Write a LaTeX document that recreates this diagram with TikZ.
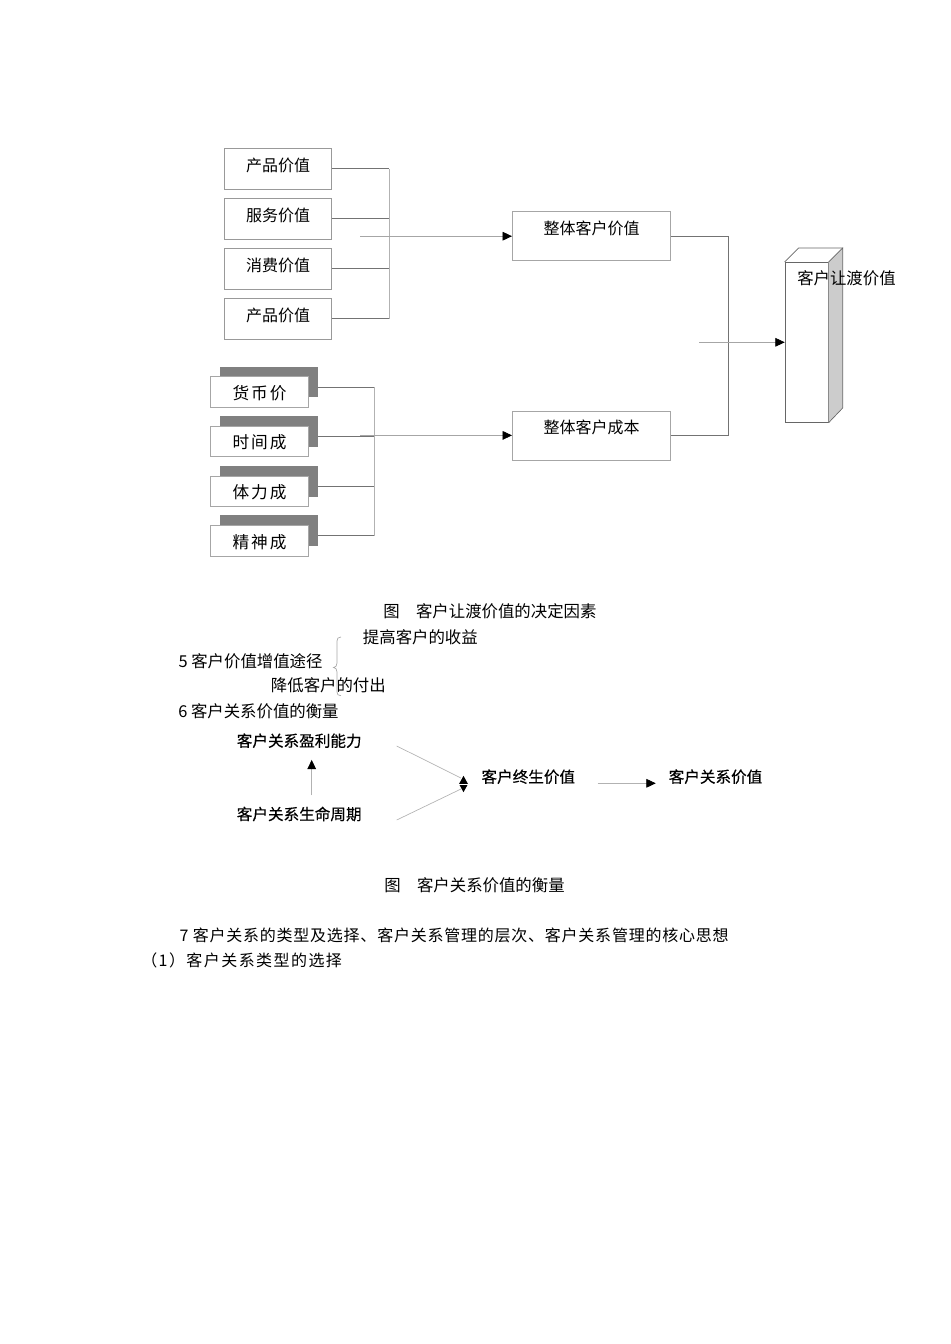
\documentclass[tikz,border=0pt]{standalone}
\usepackage{fontspec}
\setmainfont{Noto Sans CJK SC}
\newfontfamily\widefont[LetterSpace=4.8]{Noto Sans CJK SC}
\newfontfamily\widerfont[LetterSpace=9]{Noto Sans CJK SC}
\newfontfamily\spacedfont[LetterSpace=12]{Noto Sans CJK SC}
\newfontfamily\tagfont[FakeBold=0.35]{Noto Sans CJK SC}
\usetikzlibrary{arrows.meta,positioning,calc,shadows}

\begin{document}
\begin{tikzpicture}[
    x=0.75pt, y=-0.75pt,
    >={Triangle[length=7pt,width=6.5pt,color=black]},
    valbox/.style={draw=black!40, line width=0.5pt, minimum width=80.25pt, minimum height=30.75pt, inner sep=0pt, text height=8pt, text depth=3.4pt, font=\fontsize{12pt}{14pt}\selectfont},
    costbox/.style={draw=black!35, line width=0.5pt, fill=white, minimum width=73.2pt, minimum height=23pt, inner sep=0pt, text height=12pt, text depth=0.5pt, font=\spacedfont\fontsize{12.5pt}{14pt}\selectfont, copy shadow={shadow xshift=7pt, shadow yshift=7.5pt, fill=black!50, draw=none}},
    sumbox/.style={draw=black!35, line width=0.5pt, minimum width=118.8pt, minimum height=36.75pt, inner sep=0pt, text height=8pt, text depth=10.9pt, font=\fontsize{12pt}{14pt}\selectfont},
    cubebox/.style={draw=black!60, line width=0.5pt, fill=white, minimum width=32.5pt, minimum height=120pt, inner sep=0pt},
    tie/.style={draw=black!55, line width=0.5pt},
    bus/.style={draw=black!30, line width=0.5pt},
    feed/.style={draw=black!35, line width=0.5pt},
    edge/.style={draw=black!60, line width=0.5pt},
    thinline/.style={draw=black!30, line width=0.5pt},
    para/.style={inner sep=0pt, anchor=west, font=\fontsize{12.3pt}{14pt}\selectfont},
    tag/.style={inner sep=0pt, font=\tagfont\fontsize{11.7pt}{14pt}\selectfont}
]
\useasboundingbox (0,0) rectangle (950,1344);

% customer value side
\node[valbox] (p1) at (278,168.8) {产品价值};
\node[valbox] (p2) at (278,218.5) {服务价值};
\node[valbox] (p3) at (278,268.5) {消费价值};
\node[valbox] (p4) at (278,318.5) {产品价值};

\node[costbox] (c1) at (259.5,392) {货币价};
\node[costbox] (c2) at (259.5,441.3) {时间成};
\node[costbox] (c3) at (259.5,491.2) {体力成};
\node[costbox] (c4) at (259.5,540.8) {精神成};

\node[sumbox] (tv) at (591.5,236.2) {整体客户价值};
\node[sumbox] (tc) at (591.5,435.4) {整体客户成本};

\node[cubebox] (cube) at (806.7,342.3) {};
\fill[black!20] (cube.north east) -- ++(14,-14) -- ++(0,160) -- (cube.south east) -- cycle;
\draw[edge] (cube.north east) -- ++(14,-14) -- ++(0,160) -- (cube.south east);
\draw[edge] (cube.north west) -- ++(14,-14) -- ++(43.3,0);
\node[para, font=\fontsize{12.3pt}{14pt}\selectfont] (cubetxt) at (797,278.3) {客户让渡价值};

\draw[tie] (p1.east) -- ++(57.5,0);
\draw[tie] (p2.east) -- ++(57.5,0);
\draw[tie] (p3.east) -- ++(57.5,0);
\draw[tie] (p4.east) -- ++(57.5,0);
\draw[bus] ([shift={(57.5,0)}]p1.east) -- ([shift={(57.5,0)}]p4.east);
\coordinate (vin) at (360,236.2);
\draw[feed,->] (vin) -- (tv.west);

\draw[tie] ([shift={(9.3,-5)}]c1.east) -- ++(56.4,0);
\draw[tie] ([shift={(9.3,-5)}]c2.east) -- ++(56.4,0);
\draw[tie] ([shift={(9.3,-5)}]c3.east) -- ++(56.4,0);
\draw[tie] ([shift={(9.3,-5)}]c4.east) -- ++(56.4,0);
\draw[bus] ([shift={(65.7,-5)}]c1.east) -- ([shift={(65.7,-5)}]c4.east);
\coordinate (cin) at (360,435.4);
\draw[feed,->] (cin) -- (tc.west);

\draw[tie] (tv.east) -- ++(57,0) |- (tc.east);
\coordinate (qin) at (699,342.3);
\draw[feed,->] (qin) -- (cube.west);

% text between the figures
\node[para] (cap1) at (383,611.7) {图　客户让渡价值的决定因素};
\node[para] (up) at (362.7,637.7) {提高客户的收益};
\node[para] (way) at (178.3,661) {5 客户价值增值途径};
\node[para] (down) at (270.7,685) {降低客户的付出};
\draw[black!35, line width=0.5pt] (341,637) .. controls (338,637) and (337,638.5) .. (337,641) -- (337,663)
    .. controls (337,666) and (335.5,667.5) .. (333.5,667.5) .. controls (335.5,667.5) and (337,669) .. (337,672)
    -- (337,692) .. controls (337,694.5) and (338,695.7) .. (341,695.7);
\node[para] (sec6) at (178,711.7) {6 客户关系价值的衡量};

% customer relationship value
\node[tag] (prof) at (299.2,740.7) {客户关系盈利能力};
\node[tag] (life) at (299.2,814) {客户关系生命周期};
\node[tag] (clv) at (528.3,776.7) {客户终生价值};
\node[tag] (crv) at (715.5,776.7) {客户关系价值};
\coordinate (joint) at (463.5,784);
\fill (joint) ++(0,-8.2) -- ++(4.5,8.2) -- ++(-4.5,8.2) -- ++(-4.5,-8.2) -- cycle;
\draw[white, line width=0.3pt] ([xshift=-3.5pt]joint) -- ([xshift=3.5pt]joint);

\coordinate (pa) at (396.7,746);
\coordinate (la) at (396.7,820);
\draw[thinline] (pa) -- ([shift={(-2.5,-6)}]joint);
\draw[thinline] (la) -- ([shift={(-2.5,5)}]joint);
\draw[thinline,->] ([shift={(12.5,-11)}]life.north) -- ([shift={(12.5,11.6)}]prof.south);
\draw[thinline,->] ([shift={(22.3,6.6)}]clv.east) -- ([shift={(-12.7,6.6)}]crv.west);

\node[para] (cap2) at (384,885) {图　客户关系价值的衡量};
\node[para, font=\widefont\fontsize{12pt}{14pt}\selectfont] (sec7) at (179.3,935.7) {7 客户关系的类型及选择、客户关系管理的层次、客户关系管理的核心思想};
\node[para, font=\widerfont\fontsize{12pt}{14pt}\selectfont] (sub1) at (141,960) {（1）客户关系类型的选择};
\end{tikzpicture}
\end{document}
